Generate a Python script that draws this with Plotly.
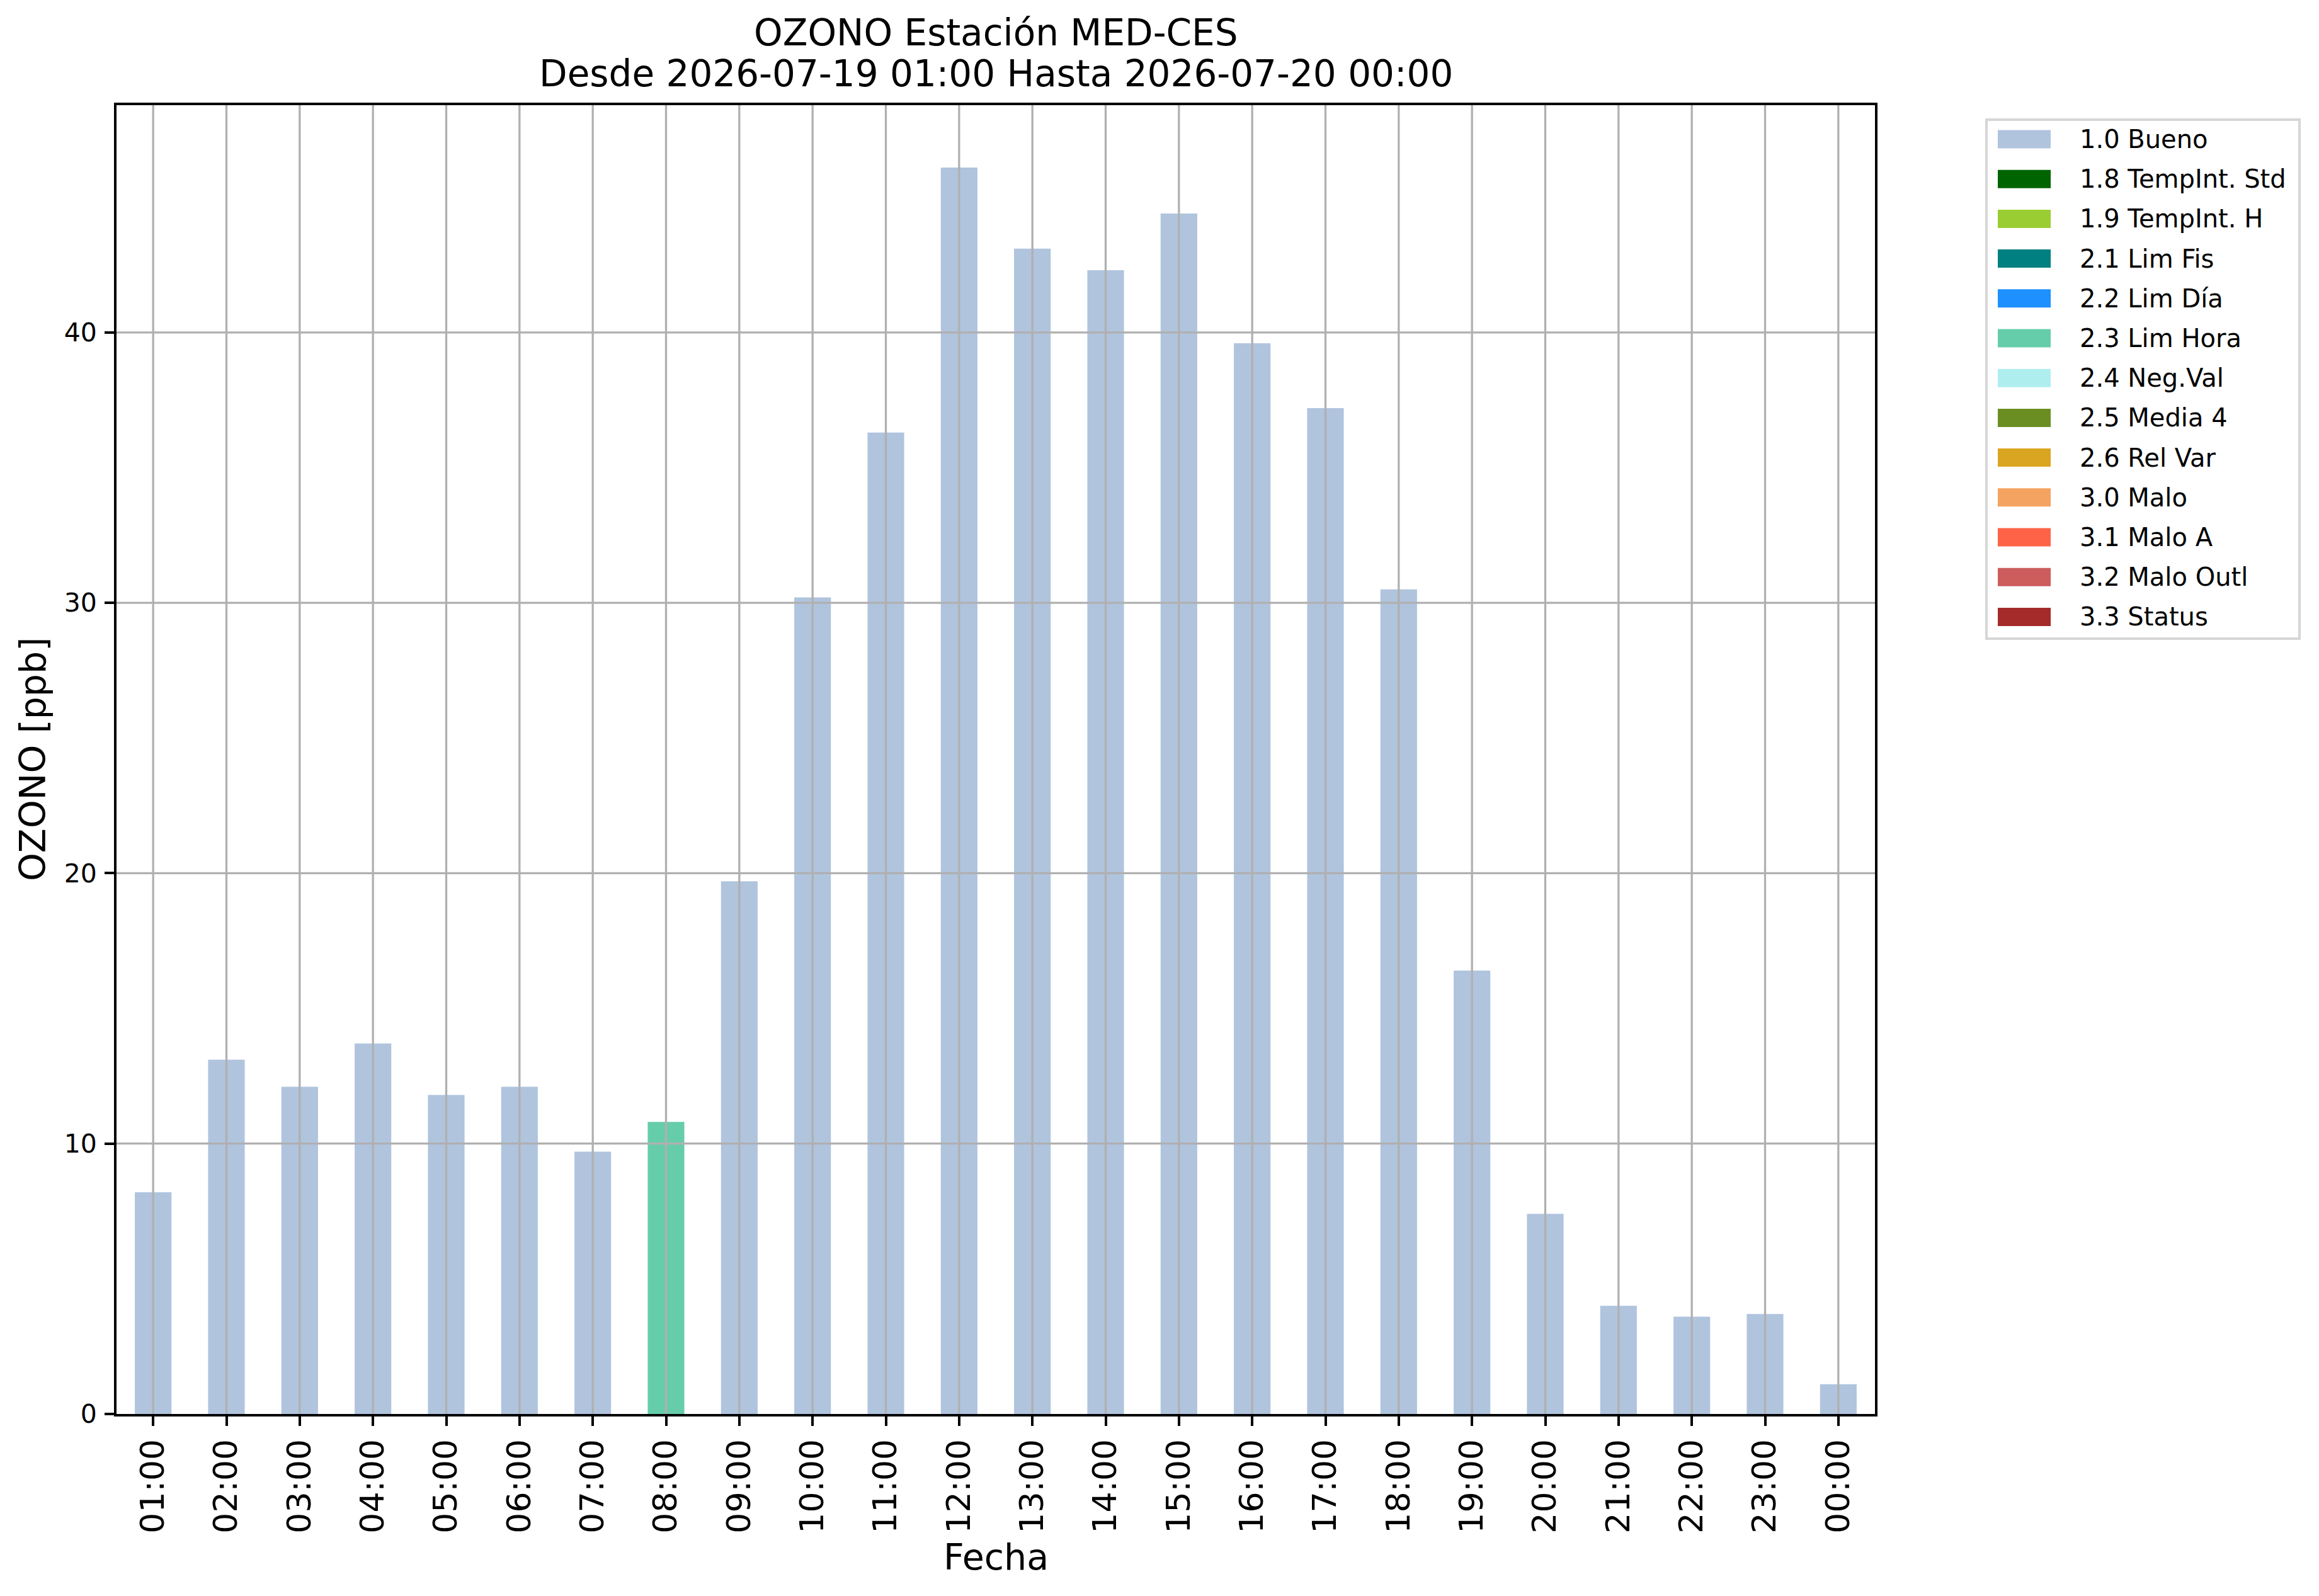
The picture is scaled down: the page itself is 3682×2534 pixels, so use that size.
import plotly.graph_objects as go

# datos horarios de ozono (ppb)
hours = ["01:00", "02:00", "03:00", "04:00", "05:00", "06:00", "07:00", "08:00",
         "09:00", "10:00", "11:00", "12:00", "13:00", "14:00", "15:00", "16:00",
         "17:00", "18:00", "19:00", "20:00", "21:00", "22:00", "23:00", "00:00"]
ozono = [8.2, 13.1, 12.1, 13.7, 11.8, 12.1, 9.7, 10.8,
         19.7, 30.2, 36.3, 46.1, 43.1, 42.3, 44.4, 39.6,
         37.2, 30.5, 16.4, 7.4, 4.0, 3.6, 3.7, 1.1]
flags = ["1.0", "1.0", "1.0", "1.0", "1.0", "1.0", "1.0", "2.3",
         "1.0", "1.0", "1.0", "1.0", "1.0", "1.0", "1.0", "1.0",
         "1.0", "1.0", "1.0", "1.0", "1.0", "1.0", "1.0", "1.0"]

flag_codes = ["1.0", "1.8", "1.9", "2.1", "2.2", "2.3", "2.4",
              "2.5", "2.6", "3.0", "3.1", "3.2", "3.3"]
flag_names = ["Bueno", "TempInt. Std", "TempInt. H", "Lim Fis", "Lim Día", "Lim Hora",
              "Neg.Val", "Media 4", "Rel Var", "Malo", "Malo A", "Malo Outl", "Status"]
flag_colors = ["#B0C4DE", "#006400", "#9ACD32", "#008080", "#1E90FF", "#66CDAA",
               "#AFEEEE", "#6B8E23", "#DAA520", "#F4A460", "#FF6347", "#CD5C5C", "#A52A2A"]

y_ticks = [0, 10, 20, 30, 40]

title1 = "OZONO Estación MED-CES"
title2 = "Desde 2026-07-19 01:00 Hasta 2026-07-20 00:00"

W, H = 3682, 2534
L, R, T, B = 185, 2977, 167, 2245
PAGE_OFF = 8  # margen por defecto del <body> en la página html
FONT = "DejaVu Sans"
GRID = "#b0b0b0"


def px(x):
    return (x - L) / (R - L)


def py(y):
    return 1 - (y - T) / (B - T)


fig = go.Figure()

for code, name, color in zip(flag_codes, flag_names, flag_colors):
    yy = [v if f == code else None for v, f in zip(ozono, flags)]
    fig.add_trace(go.Bar(x=hours, y=yy, name=f"{code} {name}", marker_color=color,
                         marker_line_width=0, width=0.5, showlegend=False))

# rejilla por encima de las barras, como en matplotlib
for h in hours:
    fig.add_shape(type="line", xref="x", yref="paper", x0=h, x1=h, y0=0, y1=1,
                  line=dict(color=GRID, width=3.3), layer="above")
for t in y_ticks[1:]:
    fig.add_shape(type="line", xref="paper", yref="y", x0=0, x1=1, y0=t, y1=t,
                  line=dict(color=GRID, width=3.3), layer="above")

# leyenda
fig.add_shape(type="rect", xref="paper", yref="paper",
              x0=px(3154), x1=px(3651), y0=py(190), y1=py(1014),
              line=dict(color="#d6d6d6", width=4), fillcolor="rgba(255,255,255,0.8)")
for i, (code, name, color) in enumerate(zip(flag_codes, flag_names, flag_colors)):
    yc = 221 + 63.2 * i
    fig.add_shape(type="rect", xref="paper", yref="paper",
                  x0=px(3172), x1=px(3256), y0=py(yc - 14.5), y1=py(yc + 14.5),
                  line=dict(width=0), fillcolor=color)
    fig.add_annotation(text=f"{code} {name}", xref="paper", yref="paper",
                       x=px(3300), y=py(yc), xanchor="left", yanchor="middle",
                       showarrow=False, font=dict(family=FONT, size=40, color="black"))

# títulos
fig.add_annotation(text=title1, xref="paper", yref="paper", x=0.5, y=py(52),
                   xanchor="center", yanchor="middle", showarrow=False,
                   font=dict(family=FONT, size=58, color="black"))
fig.add_annotation(text=title2, xref="paper", yref="paper", x=0.5, y=py(117),
                   xanchor="center", yanchor="middle", showarrow=False,
                   font=dict(family=FONT, size=58, color="black"))
fig.add_annotation(text="OZONO [ppb]", xref="paper", yref="paper", x=px(52), y=0.5,
                   xanchor="center", yanchor="middle", textangle=-90, showarrow=False,
                   font=dict(family=FONT, size=57, color="black"))
fig.add_annotation(text="Fecha", xref="paper", yref="paper", x=0.5, y=py(2472),
                   xanchor="center", yanchor="middle", showarrow=False,
                   font=dict(family=FONT, size=57, color="black"))

fig.update_layout(
    width=W, height=H,
    margin=dict(l=L - PAGE_OFF, r=W - R + PAGE_OFF, t=T - PAGE_OFF, b=H - B + PAGE_OFF,
                autoexpand=False),
    barmode="overlay",
    paper_bgcolor="white", plot_bgcolor="white",
    font=dict(family=FONT, color="black"),
    showlegend=False,
)
fig.update_xaxes(type="category", range=[-0.5, len(hours) - 0.5],
                 showgrid=False, showline=True, linecolor="black", linewidth=4, mirror=True,
                 ticks="outside", ticklen=15, tickwidth=4, tickcolor="black",
                 tickangle=-90, tickfont=dict(family=FONT, size=52, color="black"),
                 zeroline=False)
fig.update_yaxes(range=[0, max(ozono) * 1.05], tickvals=y_ticks,
                 showgrid=False, showline=True, linecolor="black", linewidth=4, mirror=True,
                 ticks="outside", ticklen=15, tickwidth=4, tickcolor="black",
                 tickfont=dict(family=FONT, size=41, color="black"),
                 ticklabelstandoff=4, zeroline=False)

fig.write_html("out.html")
